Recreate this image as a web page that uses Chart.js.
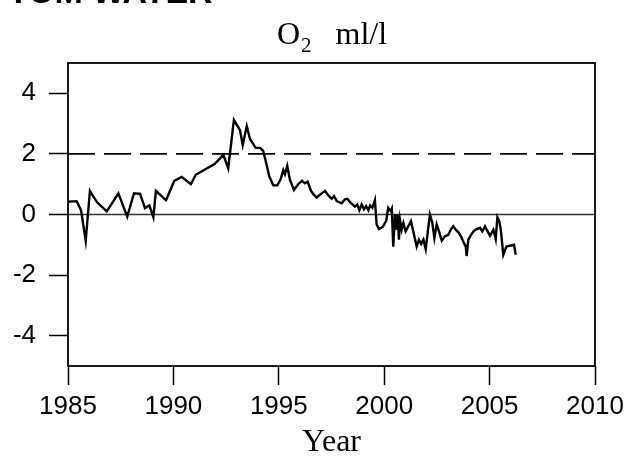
<!DOCTYPE html>
<html>
<head>
<meta charset="utf-8">
<script src="https://cdn.jsdelivr.net/npm/chart.js@4/dist/chart.umd.min.js"></script>
<style>
  html, body { margin: 0; padding: 0; background: #fff; }
  canvas { display: block; }
</style>
</head>
<body>
<canvas id="o2Chart" width="642" height="459"></canvas>
<script>
// time axis (decimal years) and O2 anomaly
const years = [
  1985.00, 1985.41, 1985.62, 1985.84, 1986.04, 1986.36, 1986.84, 1987.39, 1987.81, 1988.13,
  1988.42, 1988.65, 1988.86, 1989.05, 1989.17, 1989.65, 1990.04, 1990.39, 1990.83, 1991.06,
  1991.97, 1992.37, 1992.60, 1992.87, 1993.16, 1993.29, 1993.48, 1993.63, 1993.90, 1994.11,
  1994.26, 1994.43, 1994.55, 1994.62, 1994.74, 1994.93, 1995.09, 1995.21, 1995.29, 1995.40,
  1995.53, 1995.72, 1995.92, 1996.09, 1996.24, 1996.37, 1996.53, 1996.64, 1996.80, 1996.92,
  1997.19, 1997.35, 1997.51, 1997.62, 1997.75, 1997.98, 1998.14, 1998.25, 1998.38, 1998.61,
  1998.72, 1998.82, 1998.93, 1999.04, 1999.14, 1999.25, 1999.33, 1999.44, 1999.56, 1999.64,
  1999.75, 1999.93, 2000.09, 2000.19, 2000.31, 2000.36, 2000.43, 2000.51, 2000.59, 2000.64,
  2000.70, 2000.75, 2000.83, 2000.91, 2001.02, 2001.14, 2001.27, 2001.38, 2001.54, 2001.65,
  2001.75, 2001.86, 2001.97, 2002.09, 2002.17, 2002.28, 2002.38, 2002.49, 2002.60, 2002.73,
  2002.88, 2003.04, 2003.17, 2003.28, 2003.39, 2003.52, 2003.64, 2003.75, 2003.87, 2003.91,
  2003.99, 2004.12, 2004.23, 2004.34, 2004.54, 2004.65, 2004.78, 2004.86, 2005.02, 2005.18,
  2005.29, 2005.37, 2005.46, 2005.53, 2005.65, 2005.80, 2005.97, 2006.16, 2006.24
];
const o2 = [
  0.42, 0.44, 0.14, -0.87, 0.78, 0.42, 0.10, 0.70, -0.07, 0.70,
  0.68, 0.21, 0.30, -0.09, 0.78, 0.47, 1.11, 1.24, 1.00, 1.31,
  1.67, 1.97, 1.52, 3.12, 2.78, 2.29, 2.92, 2.50, 2.20, 2.20,
  2.10, 1.62, 1.25, 1.15, 0.96, 0.96, 1.17, 1.47, 1.33, 1.61,
  1.14, 0.81, 1.00, 1.11, 1.03, 1.08, 0.78, 0.67, 0.56, 0.63,
  0.78, 0.63, 0.52, 0.61, 0.44, 0.37, 0.50, 0.52, 0.41, 0.26,
  0.33, 0.14, 0.33, 0.17, 0.28, 0.14, 0.30, 0.22, 0.48, -0.33,
  -0.48, -0.41, -0.22, 0.22, 0.11, 0.19, -1.06, 0.00, -0.50, 0.00,
  -0.83, -0.17, -0.50, -0.28, -0.56, -0.39, -0.22, -0.56, -1.06, -0.83,
  -0.97, -0.83, -1.14, -0.44, 0.00, -0.26, -0.78, -0.33, -0.56, -0.86,
  -0.72, -0.67, -0.48, -0.39, -0.50, -0.59, -0.72, -0.89, -1.06, -1.37,
  -0.83, -0.67, -0.56, -0.50, -0.44, -0.56, -0.39, -0.50, -0.70, -0.50,
  -0.81, -0.09, -0.22, -0.50, -1.33, -1.06, -1.03, -1.00, -1.33
];
const xTicks = [1985, 1990, 1995, 2000, 2005, 2010];
const yTicks = [-4, -2, 0, 2, 4];
const xRange = [1985, 2010];
const yRange = [-5, 5];
const zeroLevel = 0;
const refLevel = 2;   // dashed reference line

const sans = "'Liberation Sans', Arial, sans-serif";
const serif = "'Liberation Serif', 'Times New Roman', serif";

// frame + title drawn by hand (subscript in the title)
const decor = {
  id: 'decor',
  afterDraw(chart) {
    const ctx = chart.ctx;
    const a = chart.chartArea;
    ctx.save();
    ctx.strokeStyle = '#000';
    ctx.lineWidth = 1.8;
    ctx.strokeRect(a.left, a.top, a.right - a.left, a.bottom - a.top);

    ctx.fillStyle = '#000';
    ctx.textBaseline = 'alphabetic';
    ctx.textAlign = 'left';
    // heading cut off at the top edge
    ctx.font = 'bold 34px ' + sans;
    ctx.fillText('TOM WATER', 8, 3);

    // O2  ml/l
    ctx.font = '32px ' + serif;
    const cx = (a.left + a.right) / 2;
    const wO = ctx.measureText('O').width;
    const wUnit = ctx.measureText('ml/l').width;
    ctx.font = '21px ' + serif;
    const wSub = ctx.measureText('2').width;
    const gap = 24;
    const total = wO + wSub + gap + wUnit;
    let x = cx - total / 2;
    const base = 44;
    ctx.font = '32px ' + serif;
    ctx.fillText('O', x, base);
    x += wO + 1;
    ctx.font = '21px ' + serif;
    ctx.fillText('2', x, base + 8);
    x += wSub + gap;
    ctx.font = '32px ' + serif;
    ctx.fillText('ml/l', x, base);
    ctx.restore();
  }
};

new Chart(document.getElementById('o2Chart'), {
  type: 'line',
  data: {
    datasets: [
      {
        data: years.map((x, i) => ({ x: x, y: o2[i] })),
        borderColor: '#000',
        borderWidth: 2.4,
        pointRadius: 0,
        tension: 0,
        order: 1
      },
      {
        data: xRange.map(x => ({ x: x, y: zeroLevel })),
        borderColor: '#333',
        borderWidth: 1.5,
        pointRadius: 0,
        order: 2
      },
      {
        data: xRange.map(x => ({ x: x, y: refLevel })),
        borderColor: '#000',
        borderWidth: 1.6,
        borderDash: [27, 9],
        pointRadius: 0,
        order: 3
      }
    ]
  },
  options: {
    responsive: false,
    animation: false,
    layout: { padding: { top: 63, right: 47, left: 0, bottom: 0 } },
    plugins: {
      legend: { display: false },
      tooltip: { enabled: false }
    },
    scales: {
      x: {
        type: 'linear',
        min: xRange[0],
        max: xRange[1],
        afterBuildTicks: s => { s.ticks = xTicks.map(v => ({ value: v })); },
        afterFit: s => { s.height = 93; },
        border: { display: false },
        grid: { drawOnChartArea: false, tickLength: 19, tickColor: '#000', tickWidth: 1.5 },
        ticks: {
          color: '#000',
          padding: 6,
          maxRotation: 0,
          font: { family: sans, size: 26 },
          callback: v => String(v)
        },
        title: {
          display: true,
          text: 'Year',
          color: '#000',
          font: { family: serif, size: 32, lineHeight: 1 },
          padding: { top: 0, bottom: 0 }
        }
      },
      y: {
        min: yRange[0],
        max: yRange[1],
        afterBuildTicks: s => { s.ticks = yTicks.map(v => ({ value: v })); },
        afterFit: s => { s.width = 68; },
        border: { display: false },
        grid: { drawOnChartArea: false, tickLength: 19, tickColor: '#000', tickWidth: 1.5 },
        ticks: {
          color: '#000',
          padding: 13,
          font: { family: sans, size: 26 },
          callback: v => String(v)
        }
      }
    }
  },
  plugins: [decor]
});
</script>
</body>
</html>
